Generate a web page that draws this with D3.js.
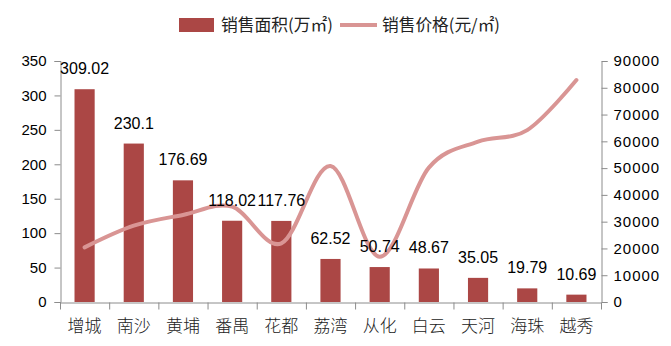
<!DOCTYPE html>
<html>
<head>
<meta charset="utf-8">
<script src="https://cdn.jsdelivr.net/npm/d3@7/dist/d3.min.js"></script>
<style>
  html, body { margin: 0; padding: 0; background: #fff; }
  svg { display: block; }
</style>
</head>
<body>
<svg id="chart" width="671" height="346"></svg>
<script>
// Districts, sales area (10k m²) and average price (yuan/m²)
const districts = ["增城", "南沙", "黄埔", "番禺", "花都", "荔湾", "从化", "白云", "天河", "海珠", "越秀"];
const salesArea = [309.02, 230.1, 176.69, 118.02, 117.76, 62.52, 50.74, 48.67, 35.05, 19.79, 10.69];
const salesPrice = [20400, 28500, 32500, 35600, 21900, 50800, 16900, 50200, 59900, 64200, 82900];
const leftTicks = [0, 50, 100, 150, 200, 250, 300, 350];
const rightTicks = [0, 10000, 20000, 30000, 40000, 50000, 60000, 70000, 80000, 90000];
const seriesNames = ["销售面积(万㎡)", "销售价格(元/㎡)"];

const barColor = "#AB4745";
const lineColor = "#D99594";
const axisColor = "#8C8C8C";
const numFont = "'Liberation Sans', Arial, sans-serif";
const cjkFont = "'Noto Sans CJK SC', sans-serif";

const svg = d3.select("#chart");
const plot = { left: 60, right: 601, top: 61, bottom: 302 };

const x = d3.scaleBand().domain(districts).range([plot.left, plot.right]).padding(0);
const yL = d3.scaleLinear().domain([0, 350]).range([plot.bottom, plot.top]);
const yR = d3.scaleLinear().domain([0, 90000]).range([plot.bottom, plot.top]);
const barW = x.bandwidth() * 0.41;

// Bars
svg.append("g").selectAll("rect").data(districts).join("rect")
  .attr("x", (d) => x(d) + (x.bandwidth() - barW) / 2)
  .attr("width", barW)
  .attr("y", (d, i) => yL(salesArea[i]))
  .attr("height", (d, i) => yL(0) - yL(salesArea[i]))
  .attr("fill", barColor);

// Left axis
const gL = svg.append("g").attr("transform", `translate(${plot.left + 0.5},0)`)
  .call(d3.axisLeft(yL).tickValues(leftTicks).tickSize(6).tickPadding(8).tickFormat(d3.format("d")));
// Right axis
const gR = svg.append("g").attr("transform", `translate(${plot.right + 0.5},0)`)
  .call(d3.axisRight(yR).tickValues(rightTicks).tickSize(6).tickPadding(6).tickFormat(d3.format("d")));
// Bottom axis: ticks on category boundaries
const gB = svg.append("g").attr("transform", `translate(0,${plot.bottom + 0.5})`)
  .call(d3.axisBottom(x).tickSize(0).tickPadding(24));
gB.selectAll(".boundary").data(d3.range(districts.length + 1)).join("line")
  .attr("class", "boundary")
  .attr("x1", (i) => plot.left + 0.5 + i * x.step())
  .attr("x2", (i) => plot.left + 0.5 + i * x.step())
  .attr("y1", 0).attr("y2", 7)
  .attr("stroke", axisColor);

[gL, gR, gB].forEach((g) => {
  g.select(".domain").attr("stroke", axisColor).attr("stroke-width", 1);
  g.selectAll(".tick line").attr("stroke", axisColor);
});
gL.selectAll(".tick text").attr("font-family", numFont).attr("font-size", 15).attr("fill", "#000");
gR.selectAll(".tick text").attr("font-family", numFont).attr("font-size", 15)
  .attr("letter-spacing", 1).attr("fill", "#000");
gB.selectAll(".tick text").attr("font-family", cjkFont).attr("font-size", 17)
  .attr("font-weight", 300).attr("fill", "#222").attr("dy", "0.3em");

// Price line (smoothed)
const line = d3.line()
  .x((d, i) => x(districts[i]) + x.bandwidth() / 2)
  .y((d) => yR(d))
  .curve(d3.curveCardinal.tension(0));
svg.append("path")
  .datum(salesPrice)
  .attr("d", line)
  .attr("fill", "none")
  .attr("stroke", lineColor)
  .attr("stroke-width", 4)
  .attr("stroke-linecap", "round");

// Value labels above bars
svg.append("g").selectAll("text").data(districts).join("text")
  .attr("x", (d) => x(d) + x.bandwidth() / 2)
  .attr("y", (d, i) => yL(salesArea[i]) - 15)
  .attr("text-anchor", "middle")
  .attr("font-family", numFont)
  .attr("font-size", 16)
  .attr("fill", "#000")
  .text((d, i) => salesArea[i]);

// Legend
const legend = svg.append("g");
legend.append("rect").attr("x", 179).attr("y", 18).attr("width", 35).attr("height", 14).attr("fill", barColor);
legend.append("text").attr("x", 221).attr("y", 25).attr("dy", "0.36em")
  .attr("font-family", cjkFont).attr("font-size", 16.5).attr("fill", "#222")
  .attr("textLength", 112).attr("lengthAdjust", "spacingAndGlyphs").text(seriesNames[0]);
legend.append("line").attr("x1", 340).attr("x2", 377).attr("y1", 25).attr("y2", 25)
  .attr("stroke", lineColor).attr("stroke-width", 4);
legend.append("text").attr("x", 382).attr("y", 25).attr("dy", "0.36em")
  .attr("font-family", cjkFont).attr("font-size", 16.5).attr("fill", "#222")
  .attr("textLength", 118).attr("lengthAdjust", "spacingAndGlyphs").text(seriesNames[1]);
</script>
</body>
</html>
